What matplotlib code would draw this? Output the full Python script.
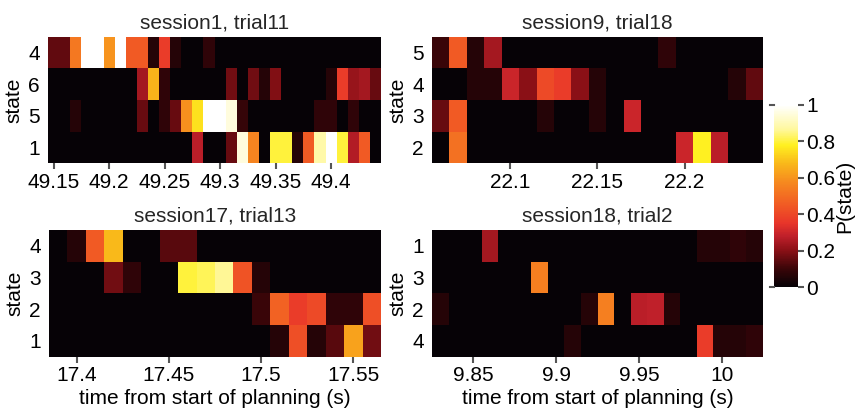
import numpy as np
import matplotlib
matplotlib.use("Agg")
import matplotlib.pyplot as plt
from matplotlib.colors import LinearSegmentedColormap

plt.rcParams['font.family'] = ['Liberation Sans', 'DejaVu Sans']

# ---------------- data ----------------
titles = ["session1, trial11", "session9, trial18", "session17, trial13", "session18, trial2"]
state_labels = [["4", "6", "5", "1"], ["5", "4", "3", "2"], ["4", "3", "2", "1"], ["1", "3", "2", "4"]]
t_start = [49.145, 22.055, 17.385, 9.825]
bin_width = [0.01, 0.01, 0.01, 0.01]
xticks = [[49.15, 49.2, 49.25, 49.3, 49.35, 49.4], [22.1, 22.15, 22.2],
          [17.4, 17.45, 17.5, 17.55], [9.85, 9.9, 9.95, 10.0]]
xticklabels = [["49.15", "49.2", "49.25", "49.3", "49.35", "49.4"], ["22.1", "22.15", "22.2"],
               ["17.4", "17.45", "17.5", "17.55"], ["9.85", "9.9", "9.95", "10"]]

p1_vals = [
    [0.15, 0.15, 0.53, 1.0, 1.0, 0.6, 1.0, 0.45, 0.45, 0.06, 0.37, 0.06, 0, 0, 0.08, 0, 0, 0, 0, 0, 0, 0, 0, 0, 0, 0, 0, 0, 0, 0],
    [0, 0, 0, 0, 0, 0, 0, 0, 0.24, 0.67, 0.08, 0, 0, 0, 0, 0, 0.17, 0, 0.17, 0.06, 0.19, 0, 0, 0, 0, 0.06, 0.37, 0.22, 0.24, 0.16],
    [0, 0, 0.06, 0, 0, 0, 0, 0, 0.16, 0, 0.08, 0.16, 0.59, 0.75, 1.0, 1.0, 0.95, 0.09, 0, 0, 0, 0, 0, 0, 0.08, 0.08, 0, 0.08, 0, 0],
    [0, 0, 0, 0, 0, 0, 0, 0, 0, 0, 0, 0, 0, 0.27, 0, 0, 0.16, 0.95, 0.56, 0, 0.8, 0.8, 0.06, 0.45, 0.88, 1.0, 0.8, 0.26, 0.45, 0],
]
p2_vals = [
    [0.1, 0.45, 0.06, 0.24, 0, 0, 0, 0, 0, 0, 0, 0, 0, 0.08, 0, 0, 0, 0, 0],
    [0, 0, 0.06, 0.06, 0.3, 0.2, 0.41, 0.37, 0.2, 0.06, 0, 0, 0, 0, 0, 0, 0, 0.06, 0.15],
    [0.16, 0.45, 0, 0, 0, 0, 0.06, 0, 0, 0.06, 0, 0.3, 0, 0, 0, 0, 0, 0, 0],
    [0, 0.51, 0, 0, 0, 0, 0, 0, 0, 0, 0, 0, 0, 0, 0.3, 0.78, 0.27, 0, 0],
]
p3_vals = [
    [0, 0.06, 0.45, 0.68, 0, 0, 0.14, 0.14, 0, 0, 0, 0, 0, 0, 0, 0, 0, 0],
    [0, 0, 0, 0.17, 0.08, 0, 0, 0.8, 0.82, 0.86, 0.43, 0.06, 0, 0, 0, 0, 0, 0],
    [0, 0, 0, 0, 0, 0, 0, 0, 0, 0, 0, 0.1, 0.47, 0.37, 0.41, 0.08, 0.08, 0.42],
    [0, 0, 0, 0, 0, 0, 0, 0, 0, 0, 0, 0, 0.06, 0.42, 0.06, 0.14, 0.63, 0.17],
]
p4_vals = [
    [0, 0, 0, 0.24, 0, 0, 0, 0, 0, 0, 0, 0, 0, 0, 0, 0, 0.06, 0.06, 0.08, 0.06],
    [0, 0, 0, 0, 0, 0, 0.55, 0, 0, 0, 0, 0, 0, 0, 0, 0, 0, 0, 0, 0],
    [0.06, 0, 0, 0, 0, 0, 0, 0, 0, 0.06, 0.55, 0, 0.27, 0.28, 0.06, 0, 0, 0, 0, 0],
    [0, 0, 0, 0, 0, 0, 0, 0, 0.06, 0, 0, 0, 0, 0, 0, 0, 0.37, 0.06, 0.06, 0.08],
]
panel_vals = [p1_vals, p2_vals, p3_vals, p4_vals]

cbar_ticks = [0, 0.2, 0.4, 0.6, 0.8, 1.0]
cbar_ticklabels = ["0", "0.2", "0.4", "0.6", "0.8", "1"]

# ---------------- style ----------------
cmap = LinearSegmentedColormap.from_list("hotlike", [
    (0.0, "#060206"), (0.1, "#3a0508"), (0.2, "#8a1016"), (0.28, "#c0202a"),
    (0.35, "#e8352a"), (0.45, "#f15a24"), (0.58, "#f68b1f"), (0.68, "#f9b81a"),
    (0.78, "#fff020"), (0.87, "#fff8a0"), (1.0, "#ffffff")])

W, H = 859, 411
fig = plt.figure(figsize=(W / 100, H / 100), dpi=100)

def rect(x0, y0, x1, y1):
    return [x0 / W, 1 - y1 / H, (x1 - x0) / W, (y1 - y0) / H]

rects = [rect(48, 37, 381, 163), rect(432, 37, 763, 163),
         rect(49, 230, 381, 356.5), rect(432, 230, 763, 356.5)]

fs = 15
tick_grey = "#555555"
mesh = None
for i in range(4):
    ax = fig.add_axes(rects[i])
    vals = np.array(panel_vals[i])
    n = vals.shape[1]
    xe = t_start[i] + bin_width[i] * np.arange(n + 1)
    ye = np.arange(vals.shape[0] + 1)
    mesh = ax.pcolormesh(xe, ye, vals, cmap=cmap, vmin=0, vmax=1, shading='flat')
    ax.set_xlim(xe[0], xe[-1])
    ax.set_ylim(ye[-1], ye[0])
    ax.set_yticks(np.arange(vals.shape[0]) + 0.5)
    ax.set_yticklabels(state_labels[i], fontsize=fs)
    ax.set_xticks(xticks[i])
    ax.set_xticklabels(xticklabels[i], fontsize=fs)
    ax.tick_params(axis='y', length=0, pad=6)
    ax.tick_params(axis='x', length=4, width=1.5, color=tick_grey, direction='out', pad=3)
    for s in ax.spines.values():
        s.set_visible(False)
    ax.set_title(titles[i], fontsize=fs, color="#262626", pad=6)
    ax.set_ylabel("state", fontsize=fs, labelpad=3)
    if i >= 2:
        ax.set_xlabel("time from start of planning (s)", fontsize=fs, labelpad=3)

cax = fig.add_axes(rect(774, 105, 798, 287))
cb = fig.colorbar(mesh, cax=cax, ticks=cbar_ticks)
cb.outline.set_visible(False)
cb.ax.set_yticklabels(cbar_ticklabels, fontsize=fs)
cb.ax.tick_params(length=4, width=1.5, color=tick_grey, direction='out', pad=2)
for yv in (0, 1):
    cax.plot([-0.18, 0.0], [yv, yv], transform=cax.transAxes, color=tick_grey, lw=1.5, clip_on=False)
cb.set_label("P(state)", fontsize=fs, labelpad=0)

fig.savefig("out.png", dpi=100)
